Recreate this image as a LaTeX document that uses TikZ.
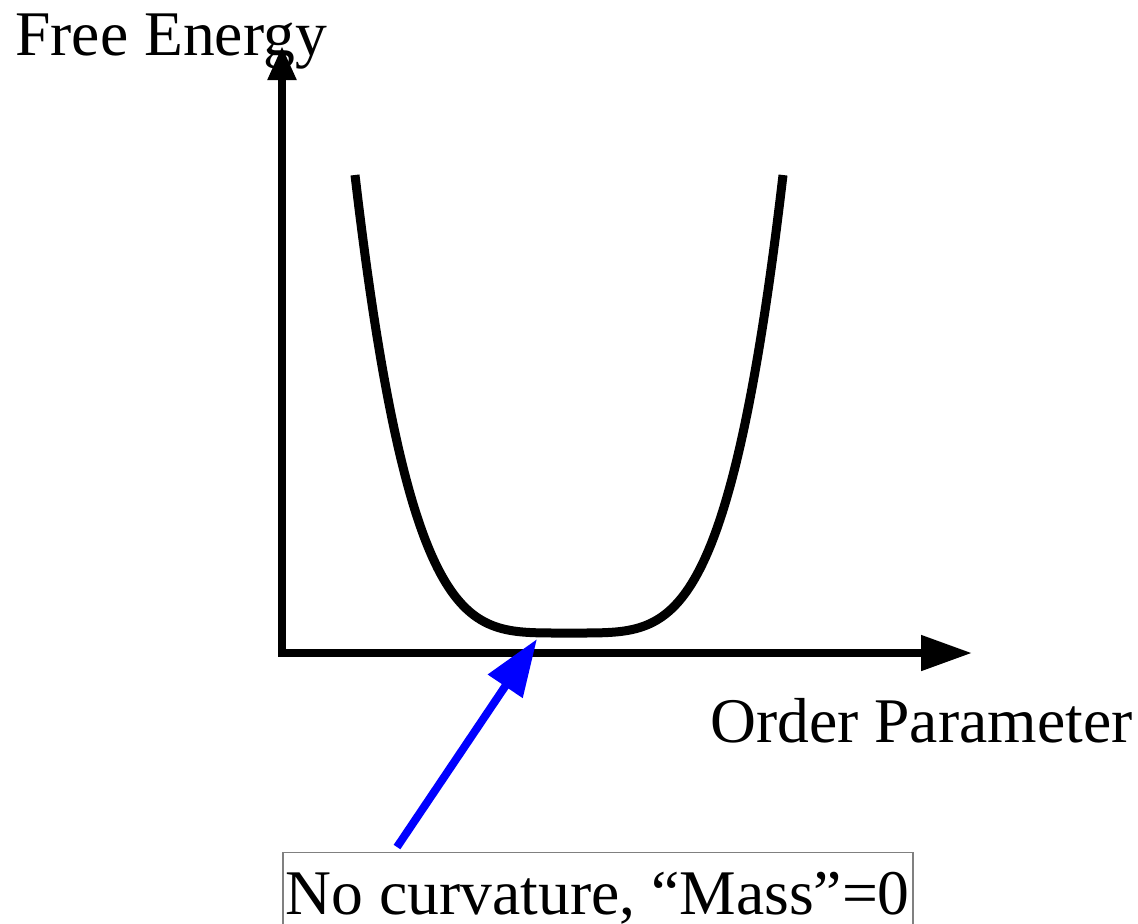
\documentclass[tikz,border=0pt]{standalone}
\usepackage{fontspec}
\setmainfont{Liberation Serif}
\usetikzlibrary{arrows.meta}

\tikzset{
	axisline/.style={line width=4pt,line join=miter},
	wellcurve/.style={line width=4.5pt,line join=round},
	pointer/.style={blue,line width=4pt,-{Triangle[length=28.5pt,width=20pt]}},
	biglabel/.style={inner sep=0pt,font=\fontsize{31.8}{38}\selectfont}
}

\begin{document}
\begin{tikzpicture}[x=0.5pt,y=-0.5pt]
		\useasboundingbox (0,0) rectangle (1138,923);
		
		% axes
		\coordinate (ytip) at (282,46);
		\coordinate (origin) at (282,653);
		\coordinate (xtip) at (972,653);
		\draw[axisline,{Triangle[length=17pt,width=13.5pt]}-{Triangle[length=25.5pt,width=17pt]}] (ytip) -- (origin) -- (xtip);
		
		\node[biglabel,anchor=base west] (ylabel) at (15,55) {Free Energy};
		\node[biglabel,anchor=base west] (xlabel) at (710,742) {Order Parameter};
		
		% flat well, quartic
		\draw[wellcurve] plot[domain=-214:214,samples=120,smooth] ({569+\x},{633-458*(\x/214)^4});
		
		% note
		\node[biglabel,draw=gray,line width=0.8pt,inner xsep=1.5pt,inner ysep=9.5pt,anchor=base west] (note) at (282,914) {No curvature, ``Mass''=0};
		\coordinate (flat) at (537,639);
		\coordinate (tail) at (397,847);
		\draw[pointer] (tail) -- (flat);
	\end{tikzpicture}
\end{document}
